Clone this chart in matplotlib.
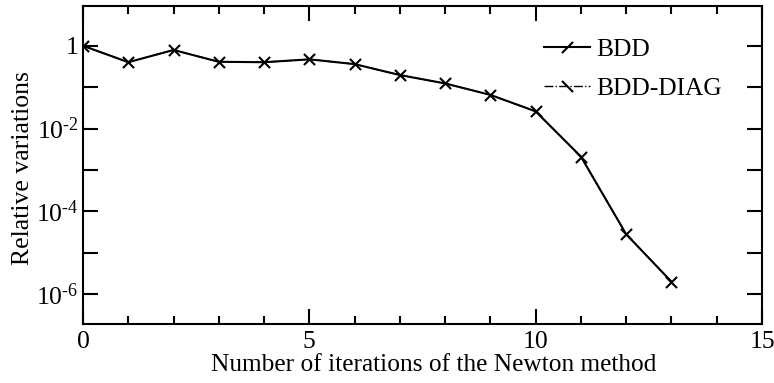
import numpy as np
import matplotlib
matplotlib.use("Agg")
import matplotlib.pyplot as plt
from matplotlib.path import Path
from matplotlib.ticker import FixedLocator, FuncFormatter, MultipleLocator

plt.rcParams['font.family'] = ['Liberation Serif', 'DejaVu Serif']
plt.rcParams['mathtext.fontset'] = 'custom'
plt.rcParams['mathtext.rm'] = 'Liberation Serif'
plt.rcParams['mathtext.it'] = 'Liberation Serif'

# data
iterations = [0, 1, 2, 3, 4, 5, 6, 7, 8, 9, 10, 11, 12, 13]
bdd = [1.0, 0.40, 0.79, 0.41, 0.40, 0.47, 0.36, 0.196, 0.123, 0.065,
       0.026, 0.0021, 2.8e-5, 2.0e-6]
bdd_diag = [1.0, 0.40, 0.79, 0.41, 0.40, 0.47, 0.36, 0.196, 0.123, 0.065,
            0.026, 0.0021, 2.8e-5, 2.0e-6]

slash = Path([(-1, -1), (1, 1)])
backslash = Path([(-1, 1), (1, -1)])

fig = plt.figure(figsize=(7.74, 3.83), dpi=100)
ax = fig.add_axes([83/774, 59/383, 679/774, 318/383])

ax.plot(iterations, bdd, color='black', lw=1.5, linestyle='-',
        marker=slash, markersize=8, markeredgewidth=1.5, label='BDD')
ax.plot(iterations, bdd_diag, color='black', lw=1.0, linestyle='-.',
        marker=backslash, markersize=8, markeredgewidth=1.5, label='BDD-DIAG')

ax.set_yscale('log')
ax.set_xlim(0, 15)
ax.set_ylim(10**-6.72, 10**0.96)

ax.xaxis.set_major_locator(MultipleLocator(5))
ax.xaxis.set_minor_locator(MultipleLocator(1))
ax.yaxis.set_major_locator(FixedLocator([10.0**e for e in range(-7, 2)]))
ax.yaxis.set_minor_locator(FixedLocator([]))


def ylab(v, pos):
    e = int(round(np.log10(v)))
    if e % 2:
        return ''
    if e == 0:
        return '1'
    return r'$10^{\text{-}%d}$' % (-e)


ax.yaxis.set_major_formatter(FuncFormatter(ylab))

ax.tick_params(which='both', direction='in', top=True, right=True,
               width=1.5, labelsize=18.5)
ax.tick_params(axis='y', pad=3)
ax.tick_params(axis='x', pad=5)
ax.tick_params(which='major', length=11)
ax.tick_params(which='minor', length=6)
for s in ax.spines.values():
    s.set_linewidth(1.5)

ax.set_xlabel('Number of iterations of the Newton method', fontsize=18.3)
ax.xaxis.set_label_coords(0.517, -0.095)
ax.set_ylabel('Relative variations', fontsize=18.5)
ax.yaxis.set_label_coords(-0.072, 0.49)

leg = ax.legend(loc='upper left', bbox_to_anchor=(544/774, 1 - 38/383),
                bbox_transform=fig.transFigure, frameon=False, fontsize=18.3,
                handlelength=1.8, handletextpad=0.25, labelspacing=0.65,
                borderpad=0, borderaxespad=0)

fig.savefig('out.png', dpi=100)
